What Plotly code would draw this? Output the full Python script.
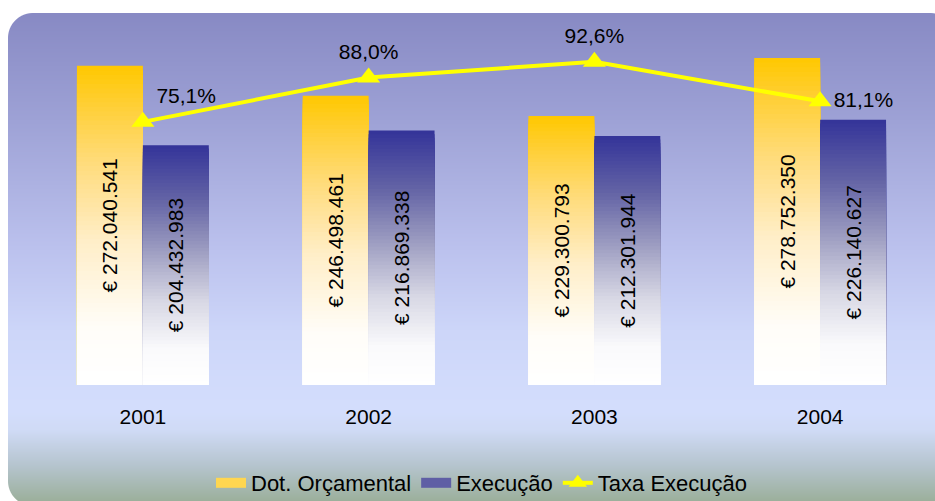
import base64
import struct
import zlib

import numpy as np
import plotly.graph_objects as go

# ---------------- data ----------------
years = ["2001", "2002", "2003", "2004"]
dot_orcamental = [272040541, 246498461, 229300793, 278752350]
execucao = [204432983, 216869338, 212301944, 226140627]
taxa_execucao = [75.1, 88.0, 92.6, 81.1]

# ---------------- helpers ----------------
W, H = 935, 501
ML, MR, MT, MB = 30, 2, 33, 116
PW, PH = W - ML - MR, H - MT - MB
FONT = "Arial, Liberation Sans, sans-serif"


def interp(stops, t):
    for (t0, c0), (t1, c1) in zip(stops[:-1], stops[1:]):
        if t <= t1:
            f = 0 if t1 == t0 else (t - t0) / (t1 - t0)
            f = min(max(f, 0), 1)
            return tuple(c0[i] + (c1[i] - c0[i]) * f for i in range(3))
    return stops[-1][1]


def rgb(c):
    return "rgb(%d,%d,%d)" % tuple(int(round(v)) for v in c)


def make_png(rgba):
    h, w, _ = rgba.shape
    raw = b"".join(b"\x00" + rgba[y].tobytes() for y in range(h))

    def chunk(tag, data):
        c = struct.pack(">I", len(data)) + tag + data
        return c + struct.pack(">I", zlib.crc32(tag + data) & 0xFFFFFFFF)

    png = b"\x89PNG\r\n\x1a\n"
    png += chunk(b"IHDR", struct.pack(">IIBBBBB", w, h, 8, 6, 0, 0, 0))
    png += chunk(b"IDAT", zlib.compress(raw, 9))
    png += chunk(b"IEND", b"")
    return "data:image/png;base64," + base64.b64encode(png).decode()


# ---------------- background (rounded gradient frame) ----------------
bg_stops = [
    (13, (136, 138, 196)),
    (120, (158, 162, 214)),
    (250, (188, 194, 238)),
    (330, (205, 214, 249)),
    (410, (212, 222, 253)),
    (430, (208, 219, 246)),
    (465, (182, 197, 207)),
    (501, (156, 176, 156)),
]
ys = np.arange(H) + 0.5
xs = np.arange(W) + 0.5
col = np.array([interp(bg_stops, y) for y in ys])
X, Y = np.meshgrid(xs, ys)
x0, y0, x1, y1, r = 8, 13, 955, 506, 25
cx, cy = (x0 + x1) / 2, (y0 + y1) / 2
hw, hh = (x1 - x0) / 2, (y1 - y0) / 2
dx = np.abs(X - cx) - (hw - r)
dy = np.abs(Y - cy) - (hh - r)
outside = np.sqrt(np.maximum(dx, 0) ** 2 + np.maximum(dy, 0) ** 2)
inside = np.minimum(np.maximum(dx, dy), 0)
sdf = outside + inside - r
alpha = np.clip(0.5 - sdf, 0, 1)
img = np.zeros((H, W, 4), dtype=np.uint8)
img[..., 0] = col[:, 0][:, None]
img[..., 1] = col[:, 1][:, None]
img[..., 2] = col[:, 2][:, None]
img[..., 3] = (alpha * 255).astype(np.uint8)
bg_src = make_png(img)

# ---------------- bar gradients ----------------
dot_stops = [
    (0.0, (255, 255, 255)),
    (0.18, (255, 253, 248)),
    (0.45, (255, 238, 200)),
    (0.7, (255, 219, 122)),
    (0.86, (255, 208, 60)),
    (1.0, (255, 200, 0)),
]
exe_stops = [
    (0.0, (255, 255, 255)),
    (0.15, (250, 250, 252)),
    (0.35, (215, 215, 228)),
    (0.55, (160, 160, 195)),
    (0.77, (100, 100, 165)),
    (1.0, (51, 51, 153)),
]

N = 70
BAR_W = 0.292
fig = go.Figure()

for values, stops, offset in [
    (dot_orcamental, dot_stops, -BAR_W),
    (execucao, exe_stops, 0.0),
]:
    # overlaid bars of decreasing height: each one repaints the lower part
    for k in range(N):
        frac = (N - k) / N
        t = (N - k - 0.5) / N
        fig.add_trace(
            go.Bar(
                x=years,
                y=[v * frac for v in values],
                offset=offset,
                width=BAR_W,
                marker=dict(color=rgb(interp(stops, t)), line=dict(width=0)),
                showlegend=False,
                hoverinfo="skip",
            )
        )
    # transparent full bar carrying the value label
    fig.add_trace(
        go.Bar(
            x=years,
            y=values,
            offset=offset,
            width=BAR_W,
            marker=dict(color="rgba(0,0,0,0)", line=dict(width=0)),
            text=["€ " + f"{v:,}".replace(",", ".") for v in values],
            textposition="inside",
            insidetextanchor="middle",
            textangle=-90,
            textfont=dict(family=FONT, size=21, color="black"),
            showlegend=False,
            hovertemplate="%{x}: %{text}<extra></extra>",
        )
    )

# legend proxies for the bar series
fig.add_trace(
    go.Scatter(
        x=[None], y=[None], mode="lines", name="Dot. Orçamental",
        line=dict(color="rgb(255,214,80)", width=12),
    )
)
fig.add_trace(
    go.Scatter(
        x=[None], y=[None], mode="lines", name="Execução",
        line=dict(color="rgb(95,95,165)", width=12),
    )
)

# rate line
fig.add_trace(
    go.Scatter(
        x=years,
        y=taxa_execucao,
        yaxis="y2",
        name="Taxa Execução",
        mode="lines+markers+text",
        line=dict(color="#FFFF00", width=4),
        marker=dict(symbol="triangle-up", size=20, color="#FFFF00"),
        text=[f"{v:.1f}".replace(".", ",") + "%" for v in taxa_execucao],
        textposition=["top right", "top center", "top center", "middle right"],
        textfont=dict(family=FONT, size=21, color="black"),
        cliponaxis=False,
    )
)

fig.update_layout(
    width=W,
    height=H,
    margin=dict(l=ML, r=MR, t=MT, b=MB, autoexpand=False),
    paper_bgcolor="white",
    plot_bgcolor="rgba(0,0,0,0)",
    barmode="overlay",
    font=dict(family=FONT, size=21, color="black"),
    xaxis=dict(
        type="category",
        range=[-0.5, 3.5],
        showgrid=False,
        zeroline=False,
        showline=False,
        ticks="",
        ticklabelstandoff=17,
        tickfont=dict(family=FONT, size=21, color="black"),
    ),
    yaxis=dict(range=[0, 300e6], visible=False, showgrid=False),
    yaxis2=dict(
        range=[-1.6, 101], overlaying="y", visible=False, showgrid=False
    ),
    legend=dict(
        orientation="h",
        x=0.5,
        xanchor="center",
        y=(385 - 483) / PH,
        yanchor="middle",
        bgcolor="rgba(0,0,0,0)",
        font=dict(family=FONT, size=22, color="black"),
        itemwidth=30,
    ),
    images=[
        dict(
            source=bg_src,
            xref="paper",
            yref="paper",
            x=-ML / PW,
            y=1 + MT / PH,
            sizex=W / PW,
            sizey=H / PH,
            xanchor="left",
            yanchor="top",
            sizing="stretch",
            layer="below",
        )
    ],
)

fig.write_html(
    "out.html",
    config={"displayModeBar": False},
    post_script="document.body.style.margin='0';document.body.style.overflow='hidden';",
)
